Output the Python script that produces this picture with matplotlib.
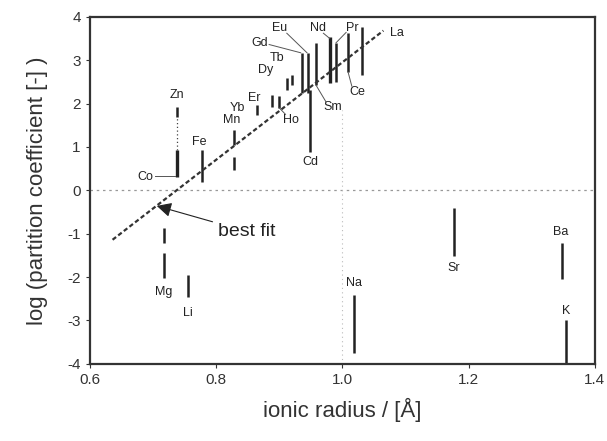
import numpy as np
import matplotlib
matplotlib.use("Agg")
import matplotlib.pyplot as plt

plt.rcParams['font.family'] = ['Liberation Sans', 'DejaVu Sans']
plt.rcParams['axes.unicode_minus'] = False

# element, ionic radius, solid ranges of log D
elements = ["Zn", "Co", "Fe", "Mn", "Yb", "Er", "Ho", "Dy", "Tb", "Gd", "Eu", "Cd",
            "Sm", "Nd", "Pr", "Ce", "La", "Na", "Sr", "Ba", "K", "Mg", "Li"]
radius = [0.738, 0.738, 0.777, 0.828, 0.865, 0.888, 0.900, 0.912, 0.920, 0.936, 0.945, 0.949,
          0.958, 0.980, 0.990, 1.009, 1.031, 1.018, 1.177, 1.348, 1.354, 0.717, 0.755]
ranges = [
    [(1.69, 1.92)],
    [(0.31, 0.93)],
    [(0.20, 0.93)],
    [(1.05, 1.39), (0.47, 0.77)],
    [(1.74, 1.97)],
    [(1.92, 2.20)],
    [(1.90, 2.18)],
    [(2.32, 2.59)],
    [(2.43, 2.66)],
    [(2.25, 3.17)],
    [(2.25, 3.17)],
    [(0.89, 2.32)],
    [(2.43, 3.40)],
    [(2.48, 3.54)],
    [(2.50, 3.40)],
    [(2.73, 3.63)],
    [(2.66, 3.77)],
    [(-3.74, -2.41)],
    [(-1.51, -0.40)],
    [(-2.04, -1.21)],
    [(-4.0, -2.98)],
    [(-1.21, -0.86), (-2.02, -1.44)],
    [(-2.45, -1.95)],
]
# Zn has a faint dotted tail below its solid part
zn_dotted = (0.93, 1.69)

fit_x = [0.636, 1.065]
fit_y = [-1.14, 3.68]

# label placement: text x, text y
label_pos = {
    "Zn": (0.738, 2.20), "Co": (0.688, 0.31), "Fe": (0.774, 1.12), "Mn": (0.825, 1.62),
    "Yb": (0.833, 1.90), "Er": (0.860, 2.13), "Ho": (0.918, 1.62), "Dy": (0.878, 2.78),
    "Tb": (0.897, 3.05), "Gd": (0.869, 3.40), "Eu": (0.901, 3.74), "Cd": (0.949, 0.66),
    "Sm": (0.984, 1.92), "Nd": (0.962, 3.74), "Pr": (1.015, 3.74), "Ce": (1.023, 2.27),
    "La": (1.087, 3.63), "Na": (1.018, -2.13), "Sr": (1.177, -1.79), "Ba": (1.346, -0.96),
    "K": (1.354, -2.78), "Mg": (0.717, -2.34), "Li": (0.755, -2.82),
}
# leader lines: (x0, y0, x1, y1)
leaders = {
    "Co": (0.704, 0.33, 0.735, 0.33),
    "Ho": (0.910, 1.75, 0.900, 1.90),
    "Gd": (0.884, 3.36, 0.934, 3.17),
    "Eu": (0.912, 3.62, 0.944, 3.17),
    "Sm": (0.974, 2.04, 0.958, 2.43),
    "Nd": (0.970, 3.62, 0.980, 3.50),
    "Pr": (1.006, 3.64, 0.990, 3.40),
    "Ce": (1.015, 2.40, 1.009, 2.73),
}

fig = plt.figure(figsize=(6.07, 4.41), dpi=100)
ax = fig.add_axes([0.148, 0.175, 0.832, 0.787])

ax.axhline(0, color="#999999", lw=0.9, ls=(0, (2, 3)), zorder=1)
ax.plot([1.0, 1.0], [-4, 1.85], color="#bbbbbb", lw=0.8, ls=(0, (1, 3)), zorder=1)

ax.plot(fit_x, fit_y, color="#333333", lw=1.6, ls=(0, (2, 1.2)), zorder=3)

for name, x, segs in zip(elements, radius, ranges):
    lw = 2.4 if name in ("Co", "Nd") else 1.8
    for lo, hi in segs:
        ax.plot([x, x], [lo, hi], color="#222222", lw=lw, solid_capstyle="butt", zorder=2)
ax.plot([radius[0]] * 2, zn_dotted, color="#444444", lw=0.9, ls=(0, (1, 2)), zorder=2)

for name in elements:
    tx, ty = label_pos[name]
    ax.text(tx, ty, name, fontsize=9, ha="center", va="center", color="#222222", zorder=4)
for name, (x0, y0, x1, y1) in leaders.items():
    ax.plot([x0, x1], [y0, y1], color="#555555", lw=0.7, zorder=3)

ax.annotate("best fit", xy=(0.706, -0.36), xytext=(0.803, -0.95),
            fontsize=14, va="center", ha="left", color="#222222",
            arrowprops=dict(arrowstyle="-|>", color="#222222", lw=0.8,
                            mutation_scale=22, shrinkA=2, shrinkB=0))

ax.set_xlim(0.6, 1.4)
ax.set_ylim(-4, 4)
ax.set_xticks([0.6, 0.8, 1.0, 1.2, 1.4])
ax.set_xticklabels(["0.6", "0.8", "1.0", "1.2", "1.4"])
ax.set_yticks(range(-4, 5))
ax.tick_params(labelsize=11, length=3, width=0.8, colors="#333333")
for s in ax.spines.values():
    s.set_linewidth(1.6)
    s.set_color("#333333")

ax.set_xlabel("ionic radius / [Å]", fontsize=16, color="#333333", labelpad=8)
ax.set_ylabel("log (partition coefficient [-] )", fontsize=16, color="#333333", labelpad=14)

fig.savefig("out.png", dpi=100)
